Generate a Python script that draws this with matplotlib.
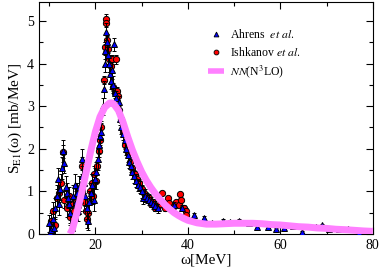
import matplotlib
matplotlib.use("Agg")
import matplotlib.pyplot as plt
from matplotlib.ticker import MultipleLocator
from matplotlib.lines import Line2D

plt.rcParams['font.family'] = ['Liberation Serif', 'DejaVu Serif']
plt.rcParams['mathtext.fontset'] = 'stix'

# Ahrens et al. (blue triangles)
ahr_w = [10.0, 10.2, 10.4, 10.8, 11.0, 11.2, 11.6, 12.0, 12.2, 12.4, 12.8, 13.1, 13.3, 13.6, 13.8,
         14.0, 14.3, 14.6, 14.9, 15.2, 15.5, 15.8, 16.1, 16.3, 16.4, 16.7, 17.0, 17.2, 17.5, 17.8,
         18.1, 18.4, 18.7, 19.0, 19.3, 19.6, 19.9, 20.2, 20.5, 20.8, 21.0, 21.3, 21.6, 21.8, 22.0,
         22.1, 22.3, 22.5, 22.7, 22.9, 23.1, 23.3, 23.5, 23.8, 24.1, 24.3, 24.5, 24.8, 25.0, 25.3,
         25.6, 26.0, 26.3, 26.6, 27.0, 27.3, 27.7, 28.0, 28.4, 28.8, 29.2, 29.6, 30.0, 30.4, 30.8,
         31.2, 31.6, 32.0, 32.5, 33.0, 33.5, 37.0, 38.8, 41.3, 43.4, 45.3, 47.7, 49.2, 51.1, 53.3,
         55.0, 57.4, 59.1, 60.8, 62.8, 64.7, 67.7, 69.0, 70.5, 72.7, 74.6, 77.0]
ahr_s = [0.25, 0.05, 0.10, 0.35, 0.15, 0.60, 0.90, 1.30, 0.70, 1.05, 1.55, 1.95, 1.67, 1.10, 0.95,
         0.85, 0.70, 0.50, 0.15, 0.90, 1.15, 0.75, 0.95, 0.55, 1.10, 0.80, 1.35, 1.75, 1.20, 0.90,
         0.60, 0.30, 0.75, 0.95, 1.15, 0.80, 1.30, 1.45, 1.75, 2.10, 2.30, 2.40, 3.00, 3.40, 4.00,
         4.30, 4.75, 4.50, 4.20, 4.00, 3.75, 3.60, 3.85, 3.50, 4.45, 3.30, 3.20, 3.00, 3.10, 2.70,
         2.50, 2.35, 2.20, 2.00, 1.85, 1.70, 1.60, 1.45, 1.35, 1.25, 1.15, 1.10, 1.00, 0.85, 0.90,
         0.85, 0.80, 0.75, 0.70, 0.65, 0.60, 0.68, 0.61, 0.45, 0.38, 0.26, 0.31, 0.29, 0.31, 0.25,
         0.17, 0.16, 0.12, 0.13, 0.19, 0.05, 0.17, 0.21, 0.12, 0.12, 0.11, 0.05]
ahr_e = [0.20, 0.15, 0.20, 0.25, 0.20, 0.25, 0.25, 0.25, 0.25, 0.25, 0.25, 0.25, 0.25, 0.25, 0.25,
         0.25, 0.25, 0.25, 0.25, 0.25, 0.25, 0.25, 0.25, 0.25, 0.25, 0.25, 0.25, 0.25, 0.25, 0.25,
         0.25, 0.20, 0.25, 0.25, 0.25, 0.25, 0.25, 0.25, 0.25, 0.20, 0.20, 0.20, 0.20, 0.20, 0.20,
         0.20, 0.20, 0.20, 0.20, 0.20, 0.20, 0.20, 0.20, 0.20, 0.15, 0.15, 0.15, 0.15, 0.15, 0.15,
         0.15, 0.15, 0.15, 0.15, 0.15, 0.15, 0.15, 0.15, 0.15, 0.15, 0.15, 0.15, 0.15, 0.15, 0.15,
         0.12, 0.12, 0.12, 0.12, 0.12, 0.10, 0.08, 0.06, 0.03, 0.03, 0.03, 0.03, 0.03, 0.03, 0.03,
         0.03, 0.03, 0.03, 0.03, 0.03, 0.03, 0.03, 0.03, 0.03, 0.03, 0.03, 0.03]

# Ishkanov et al. (red circles)
ish_w = [10.3, 10.8, 11.3, 11.7, 12.2, 12.6, 13.0, 13.3, 13.8, 14.2, 14.6, 15.0, 15.4, 15.8, 16.2,
         16.6, 17.0, 17.3, 17.6, 17.9, 18.2, 18.5, 18.8, 19.2, 19.5, 19.8, 20.1, 20.4, 20.7, 21.0,
         21.3, 21.8, 22.0, 22.2, 22.35, 22.5, 22.8, 23.0, 23.3, 23.6, 23.9, 24.2, 24.4, 24.6, 24.9,
         25.2, 25.5, 26.0, 26.5, 27.0, 27.5, 28.0, 28.5, 29.0, 29.5, 30.0, 30.5, 31.0, 31.5, 32.0,
         32.5, 33.0, 33.5, 34.0, 34.5, 35.0, 35.6, 36.0, 36.5, 37.0, 37.5, 38.0, 38.4, 38.6, 38.9,
         39.2, 39.5, 39.7]
ish_s = [0.30, 0.55, 0.20, 0.85, 0.95, 1.20, 1.93, 0.80, 0.60, 0.90, 0.40, 0.70, 0.55, 0.85, 0.65,
         0.95, 1.60, 1.20, 0.75, 0.55, 0.35, 0.50, 1.00, 1.20, 0.90, 1.40, 1.25, 1.60, 1.95, 2.20,
         2.50, 3.62, 4.40, 5.06, 4.95, 4.55, 4.35, 4.10, 3.95, 4.10, 3.45, 3.30, 4.10, 3.35, 3.25,
         2.90, 2.70, 2.40, 2.10, 1.90, 1.70, 1.55, 1.40, 1.30, 1.20, 1.05, 0.95, 0.90, 0.85, 0.70,
         0.75, 0.60, 0.65, 0.70, 0.96, 0.60, 0.85, 0.72, 0.60, 0.66, 0.75, 0.68, 0.94, 0.80, 0.60,
         0.62, 0.55, 0.45]
ish_e = [0.20, 0.20, 0.20, 0.20, 0.20, 0.20, 0.15, 0.20, 0.20, 0.20, 0.20, 0.20, 0.20, 0.20, 0.20,
         0.20, 0.20, 0.20, 0.20, 0.20, 0.20, 0.20, 0.20, 0.20, 0.20, 0.20, 0.20, 0.20, 0.15, 0.15,
         0.15, 0.10, 0.10, 0.10, 0.10, 0.10, 0.10, 0.10, 0.10, 0.10, 0.10, 0.10, 0.10, 0.10, 0.10,
         0.10, 0.10, 0.10, 0.10, 0.10, 0.10, 0.08, 0.08, 0.08, 0.08, 0.08, 0.08, 0.08, 0.08, 0.06,
         0.06, 0.06, 0.06, 0.06, 0.05, 0.05, 0.05, 0.05, 0.05, 0.05, 0.05, 0.05, 0.05, 0.05, 0.05,
         0.05, 0.05, 0.05]

# NN(N3LO) theory curve
th_w = [14.5, 15, 16, 17, 18, 19, 20, 21, 22, 23, 23.5, 24, 25, 26, 27, 28, 29, 30, 31, 32, 33, 34,
        35, 36, 37, 38, 39, 40, 42, 44, 46, 48, 50, 52, 54, 56, 58, 60, 62, 64, 66, 68, 70, 72, 74,
        76, 78, 80]
th_s = [0.0, 0.1, 0.5, 0.95, 1.45, 1.95, 2.4, 2.75, 2.97, 3.07, 3.08, 3.05, 2.9, 2.62, 2.28, 1.97,
        1.7, 1.46, 1.26, 1.09, 0.94, 0.81, 0.69, 0.59, 0.5, 0.43, 0.37, 0.32, 0.26, 0.23, 0.23, 0.24,
        0.25, 0.25, 0.25, 0.24, 0.22, 0.21, 0.19, 0.17, 0.16, 0.14, 0.13, 0.11, 0.10, 0.085, 0.07, 0.06]

labels = ['Ahrens  $\\mathit{et\\ al.}$', 'Ishkanov $\\mathit{et\\ al.}$', '$\\mathit{NN}$(N$^3$LO)']

fig = plt.figure(figsize=(3.82, 2.72), dpi=100)
ax = fig.add_axes([0.102, 0.140, 0.874, 0.853])

ax.errorbar(ish_w, ish_s, yerr=ish_e, fmt='o', ms=4.5, mfc='#ff0000', mec='black', mew=0.7,
            ecolor='black', elinewidth=0.7, capsize=1.5, capthick=0.7, zorder=2)
ax.errorbar(ahr_w, ahr_s, yerr=ahr_e, fmt='^', ms=4.5, mfc='#0000ff', mec='black', mew=0.7,
            ecolor='black', elinewidth=0.7, capsize=1.5, capthick=0.7, zorder=3)
ax.plot(th_w, th_s, color='#ff80ff', lw=5, solid_capstyle='butt', zorder=4)

ax.set_xlim(7.8, 80)
ax.set_ylim(0, 5.45)
ax.xaxis.set_major_locator(MultipleLocator(20))
ax.xaxis.set_minor_locator(MultipleLocator(10))
ax.yaxis.set_major_locator(MultipleLocator(1))
ax.yaxis.set_minor_locator(MultipleLocator(0.5))
ax.tick_params(which='both', direction='in', top=True, right=True, labelsize=10, width=0.8)
ax.tick_params(which='major', length=5)
ax.tick_params(which='minor', length=3)
for s in ax.spines.values():
    s.set_linewidth(0.8)

ax.set_xlabel('ω[MeV]', fontsize=11, labelpad=1)
ax.set_ylabel('S$_{\\rm E1}$(ω) [mb/MeV]', fontsize=11, labelpad=2)

handles = [
    Line2D([], [], ls='none', marker='^', ms=3.5, mfc='#0000ff', mec='black', mew=0.6),
    Line2D([], [], ls='none', marker='o', ms=3.5, mfc='#ff0000', mec='black', mew=0.6),
    Line2D([], [], color='#ff80ff', lw=4, solid_capstyle='butt'),
]
ax.legend(handles, labels, loc='upper left', bbox_to_anchor=(0.49, 0.912), frameon=False,
          fontsize=8.5, handlelength=1.3, handletextpad=0.5, labelspacing=0.38, borderpad=0)

fig.savefig('out.png', dpi=100)
